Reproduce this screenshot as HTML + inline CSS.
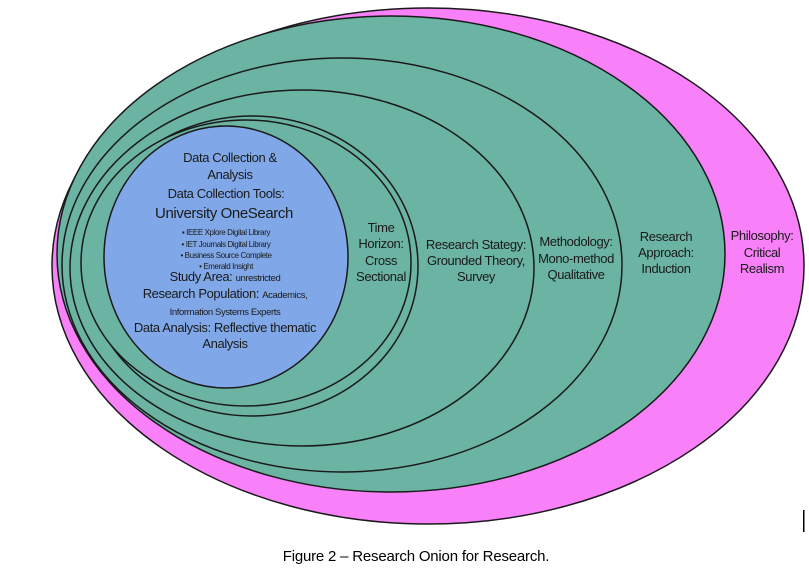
<!DOCTYPE html>
<html><head><meta charset="utf-8"><style>
html,body{margin:0;padding:0;background:#fff;width:809px;height:575px;overflow:hidden}
svg{display:block}
text{font-family:"Liberation Sans",Arial,sans-serif;fill:#1a1a1a;text-anchor:middle;letter-spacing:-0.4px}
.cap{font-family:"Liberation Sans Narrow","Liberation Sans",sans-serif;letter-spacing:-0.2px;fill:#000}
</style></head><body>
<svg width="809" height="575" viewBox="0 0 809 575">
<g stroke="#1a1a1a" stroke-width="1.5">
<ellipse cx="428" cy="266" rx="376" ry="258" fill="#f880f8"/>
<ellipse cx="391" cy="254" rx="334" ry="238" fill="#6bb3a3"/>
<ellipse cx="342" cy="265" rx="280" ry="207" fill="#6bb3a3"/>
<ellipse cx="302" cy="268" rx="232" ry="178" fill="#6bb3a3"/>
<ellipse cx="252" cy="266" rx="166" ry="150" fill="#6bb3a3"/>
<ellipse cx="246" cy="263" rx="165" ry="143" fill="#6bb3a3"/>
<ellipse cx="226" cy="257" rx="122" ry="131" fill="#80a8e8"/>
</g>
<g font-size="13">
<text x="230" y="162">Data Collection &amp;</text>
<text x="230" y="179">Analysis</text>
<text x="226" y="198">Data Collection Tools:</text>
<text x="224" y="218" font-size="15">University OneSearch</text>
<text x="226" y="235" font-size="8">▪ IEEE Xplore Digital Library</text>
<text x="226" y="247" font-size="8">• IET Journals Digital Library</text>
<text x="226" y="258" font-size="8">• Business Source Complete</text>
<text x="226" y="269" font-size="8">• Emerald Insight</text>
<text x="225" y="281">Study Area: <tspan font-size="9.5">unrestricted</tspan></text>
<text x="225" y="298">Research Population: <tspan font-size="9.5">Academics,</tspan></text>
<text x="225" y="315" font-size="9.5">Information Systems Experts</text>
<text x="225" y="332">Data Analysis: Reflective thematic</text>
<text x="225" y="348">Analysis</text>

<text x="381" y="232">Time</text>
<text x="381" y="248">Horizon:</text>
<text x="381" y="265">Cross</text>
<text x="381" y="281">Sectional</text>

<text x="476" y="249">Research Stategy:</text>
<text x="476" y="265">Grounded Theory,</text>
<text x="476" y="281">Survey</text>

<text x="576" y="246">Methodology:</text>
<text x="576" y="263">Mono-method</text>
<text x="576" y="279">Qualitative</text>

<text x="666" y="241">Research</text>
<text x="666" y="257">Approach:</text>
<text x="666" y="273">Induction</text>

<text x="762" y="240">Philosophy:</text>
<text x="762" y="257">Critical</text>
<text x="762" y="273">Realism</text>
</g>
<text class="cap" x="416" y="561" font-size="15">Figure 2 – Research Onion for Research.</text>
<rect x="803" y="510" width="1.5" height="22" fill="#000"/>
</svg>
</body></html>
